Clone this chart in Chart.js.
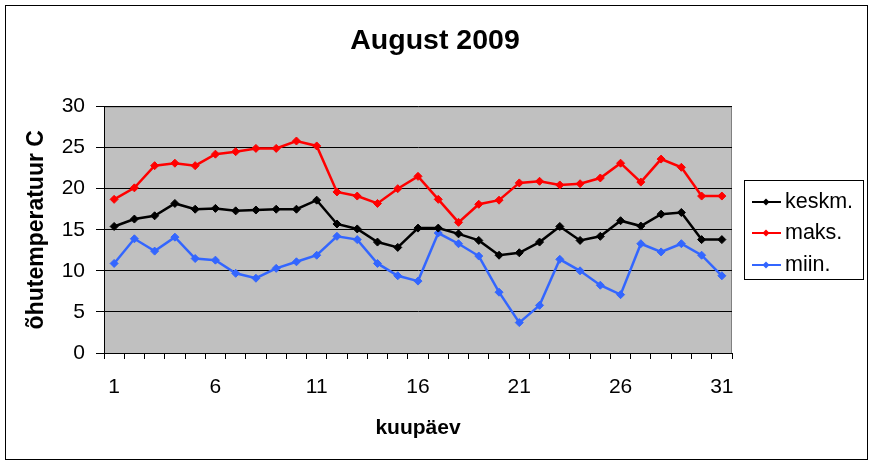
<!DOCTYPE html>
<html>
<head>
<meta charset="utf-8">
<script src="https://cdn.jsdelivr.net/npm/chart.js@4.4.1/dist/chart.umd.min.js"></script>
<style>
html,body{margin:0;padding:0;background:#fff;}
#wrap{width:874px;height:466px;}
</style>
</head>
<body>
<div id="wrap"><canvas id="c" width="874" height="466"></canvas></div>
<script>
const days = Array.from({length: 31}, (_, i) => String(i + 1));
const keskm = [15.4, 16.3, 16.7, 18.2, 17.5, 17.6, 17.3, 17.4, 17.5, 17.5, 18.6, 15.7, 15.1, 13.5, 12.85, 15.2, 15.2, 14.5, 13.7, 11.9, 12.2, 13.5, 15.4, 13.7, 14.2, 16.1, 15.45, 16.9, 17.1, 13.8, 13.8];
const maks = [18.7, 20.1, 22.8, 23.1, 22.8, 24.2, 24.5, 24.9, 24.9, 25.8, 25.2, 19.6, 19.1, 18.2, 20.0, 21.5, 18.7, 15.9, 18.1, 18.6, 20.7, 20.9, 20.45, 20.6, 21.3, 23.1, 20.8, 23.6, 22.6, 19.1, 19.1];
const miin = [10.9, 13.9, 12.4, 14.1, 11.5, 11.3, 9.7, 9.1, 10.3, 11.1, 11.9, 14.2, 13.8, 10.9, 9.4, 8.75, 14.6, 13.3, 11.8, 7.4, 3.7, 5.8, 11.4, 10.0, 8.25, 7.1, 13.3, 12.3, 13.3, 11.9, 9.4];
const seriesNames = ['keskm.', 'maks.', 'miin.'];
const seriesColors = ['#000000', '#FF0000', '#3366FF'];
const xTickLabels = ['1', '6', '11', '16', '21', '26', '31'];
const yTicks = [0, 5, 10, 15, 20, 25, 30];
const titleText = 'August 2009';
const yTitle = 'õhutemperatuur C';
const xTitle = 'kuupäev';

const FONT = "'Liberation Sans', Arial, sans-serif";

const frame = {
  id: 'frame',
  beforeDraw(chart) {
    const ctx = chart.ctx;
    ctx.save();
    ctx.fillStyle = '#ffffff';
    ctx.fillRect(0, 0, chart.width, chart.height);
    ctx.strokeStyle = '#000000';
    ctx.lineWidth = 1;
    ctx.strokeRect(5.5, 5.5, 862, 454);
    const a = chart.chartArea;
    ctx.fillStyle = '#C0C0C0';
    ctx.fillRect(a.left, a.top, a.right - a.left, a.bottom - a.top);
    ctx.strokeStyle = '#808080';
    ctx.strokeRect(a.left + 0.5, a.top + 0.5, a.right - a.left - 1, a.bottom - a.top);
    // chart title
    ctx.fillStyle = '#000000';
    ctx.font = 'bold 28.5px ' + FONT;
    ctx.textAlign = 'center';
    ctx.textBaseline = 'middle';
    ctx.fillText(titleText, 435, 41);
    ctx.restore();
  },
  afterDraw(chart) {
    const ctx = chart.ctx;
    ctx.save();
    const bx = 744, by = 180, bw = 119, bh = 99;
    ctx.fillStyle = '#ffffff';
    ctx.fillRect(bx, by, bw, bh);
    ctx.strokeStyle = '#000000';
    ctx.lineWidth = 1;
    ctx.strokeRect(bx + 0.5, by + 0.5, bw, bh);
    const rows = [202, 233, 265];
    chart.data.datasets.forEach((ds, i) => {
      const y = rows[i];
      ctx.strokeStyle = ds.borderColor;
      ctx.lineWidth = 2;
      ctx.beginPath();
      ctx.moveTo(752, y);
      ctx.lineTo(781, y);
      ctx.stroke();
      ctx.fillStyle = ds.borderColor;
      ctx.beginPath();
      ctx.moveTo(766, y - 3.5);
      ctx.lineTo(769.5, y);
      ctx.lineTo(766, y + 3.5);
      ctx.lineTo(762.5, y);
      ctx.closePath();
      ctx.fill();
      ctx.fillStyle = '#000000';
      ctx.font = '21.5px ' + FONT;
      ctx.textBaseline = 'middle';
      ctx.textAlign = 'left';
      ctx.fillText(ds.label, 785, y);
    });
    ctx.restore();
  }
};

const mk = (i, data) => ({
  label: seriesNames[i],
  data: data,
  borderColor: seriesColors[i],
  backgroundColor: seriesColors[i],
  borderWidth: 2.5,
  pointStyle: 'rectRot',
  pointRadius: 4,
  pointBorderWidth: 1,
  tension: 0,
  clip: false
});

new Chart(document.getElementById('c'), {
  type: 'line',
  data: {
    labels: days,
    datasets: [mk(0, keskm), mk(1, maks), mk(2, miin)]
  },
  plugins: [frame],
  options: {
    responsive: false,
    animation: false,
    devicePixelRatio: 1,
    layout: { padding: { left: 0, right: 142, top: 106.5, bottom: 0 } },
    plugins: {
      legend: { display: false },
      tooltip: { enabled: false },
      title: { display: false }
    },
    scales: {
      x: {
        type: 'category',
        offset: true,
        afterFit(s) { s.height = 113; },
        grid: { display: true, drawOnChartArea: false, drawTicks: true, tickLength: 6, offset: true, color: '#000000', lineWidth: 1 },
        border: { display: true, color: '#000000', width: 1 },
        ticks: {
          autoSkip: false,
          maxRotation: 0,
          padding: 16,
          color: '#000000',
          font: { family: FONT, size: 21 },
          callback(v, i) { const l = days[i]; return xTickLabels.includes(l) ? l : ''; }
        },
        title: {
          display: true,
          text: xTitle,
          color: '#000000',
          font: { family: FONT, size: 21, weight: 'bold', lineHeight: 1.2 },
          padding: { top: 0, bottom: 25.4 }
        }
      },
      y: {
        min: 0,
        max: 30,
        afterFit(s) { s.width = 104; },
        afterBuildTicks(s) { s.ticks = yTicks.map(v => ({ value: v })); },
        grid: { color: '#000000', lineWidth: 1, tickLength: 8, drawTicks: true },
        border: { display: true, color: '#000000', width: 1 },
        ticks: {
          stepSize: 5,
          padding: 11,
          color: '#000000',
          font: { family: FONT, size: 21 }
        },
        title: {
          display: true,
          text: yTitle,
          color: '#000000',
          font: { family: FONT, size: 23, weight: 'bold', lineHeight: 1.2 },
          padding: { top: 23, bottom: 0 }
        }
      }
    }
  }
});
</script>
</body>
</html>
